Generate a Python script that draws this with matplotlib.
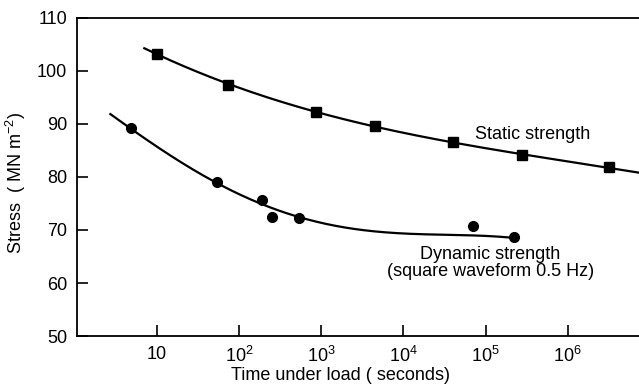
import numpy as np
import matplotlib
matplotlib.use("Agg")
import matplotlib.pyplot as plt

# ---- data ----
static_t = [10, 74, 870, 4500, 40000, 2.8e5, 3.2e6]
static_s = [103.2, 97.3, 92.2, 89.6, 86.6, 84.2, 81.9]
static_curve_t = [7.0, 10, 74, 870, 4500, 40000, 2.8e5, 3.2e6, 7.4e6]
static_curve_s = [104.3, 103.2, 97.4, 92.3, 89.6, 86.6, 84.1, 81.8, 80.8]

dynamic_t = [4.8, 54, 190, 253, 540, 7.1e4, 2.2e5]
dynamic_s = [89.2, 79.0, 75.6, 72.5, 72.2, 70.7, 68.6]
dynamic_curve_t = [2.7, 4.8, 54, 540, 1e3, 1e4, 1e5, 2.2e5]
dynamic_curve_s = [91.8, 89.2, 78.8, 72.5, 71.2, 69.5, 68.7, 68.6]

yticks = [50, 60, 70, 80, 90, 100, 110]
xticks = [10, 1e2, 1e3, 1e4, 1e5, 1e6]
xticklabels = ["10", "$10^2$", "$10^3$", "$10^4$", "$10^5$", "$10^6$"]

plt.rcParams['font.family'] = ['Liberation Sans', 'DejaVu Sans']
plt.rcParams['mathtext.fontset'] = 'custom'
plt.rcParams['mathtext.rm'] = 'Liberation Sans'
plt.rcParams['mathtext.it'] = 'Liberation Sans'

fig = plt.figure(figsize=(6.39, 3.86), dpi=100)
ax = fig.add_axes([0.1205, 0.1295, 1.0 - 0.1205, 0.824])

# static curve: smooth fit of traced curve in log time
lsx = np.log10(static_curve_t)
ps = np.polyfit(lsx, static_curve_s, 3)
xs = np.linspace(lsx[0], lsx[-1], 300)
ax.plot(10**xs, np.polyval(ps, xs), color='black', lw=1.6)
ax.plot(static_t, static_s, 's', color='black', ms=7.5)

# dynamic curve: smooth fit of traced curve in log time
lcx = np.log10(dynamic_curve_t)
pd_ = np.polyfit(lcx, dynamic_curve_s, 4)
xd = np.linspace(lcx[0], lcx[-1], 300)
ax.plot(10**xd, np.polyval(pd_, xd), color='black', lw=1.6)
ax.plot(dynamic_t, dynamic_s, 'o', color='black', ms=7)

ax.set_xscale('log')
ax.set_xlim(1.06, 7.4e6)
ax.set_ylim(50, 110)
ax.set_yticks(yticks)
ax.set_xticks(xticks)
ax.set_xticklabels(xticklabels)
ax.xaxis.set_minor_locator(matplotlib.ticker.NullLocator())
ax.tick_params(direction='in', length=8, width=1.2, labelsize=13, pad=7)

for s in ['left', 'bottom', 'top']:
    ax.spines[s].set_linewidth(1.3)
ax.spines['right'].set_visible(False)

ax.set_ylabel("Stress  ( MN m$^{-2}$)", fontsize=13)
ax.set_xlabel("Time under load ( seconds)", fontsize=13)
ax.yaxis.set_label_coords(-0.088, 0.48)
ax.xaxis.set_label_coords(0.468, -0.098)

ax.text(3.7e5, 88.0, "Static strength", fontsize=13, ha='center', va='center')
ax.text(1.15e5, 63.7, "Dynamic strength\n(square waveform 0.5 Hz)", fontsize=13,
        ha='center', va='center', linespacing=1.0)

fig.savefig("out.png", dpi=100)
